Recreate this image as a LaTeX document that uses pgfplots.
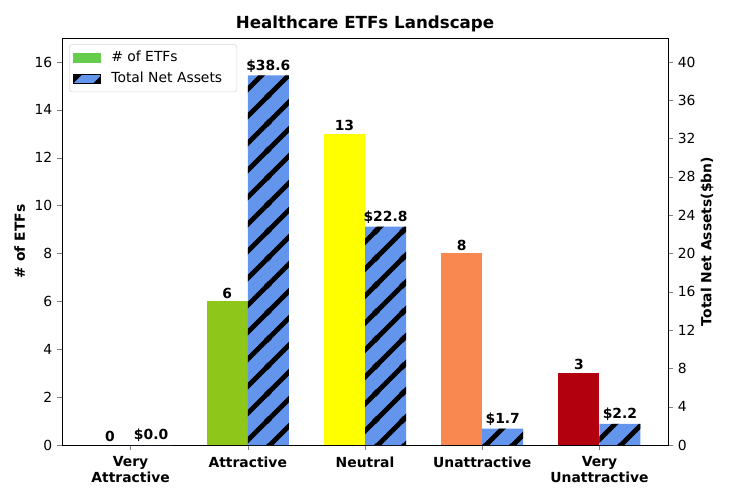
\documentclass[border=0pt]{standalone}
\usepackage{fontspec}
\setmainfont{DejaVu Sans}
\usepackage{pgfplots}
\pgfplotsset{compat=1.18}
\usetikzlibrary{patterns}

\definecolor{legendgreen}{HTML}{66CC4C}
\definecolor{vattr}{HTML}{1A9641}
\definecolor{attr}{HTML}{8EC71A}
\definecolor{neutral}{HTML}{FFFF00}
\definecolor{unattr}{HTML}{F88750}
\definecolor{vunattr}{HTML}{B3000F}
\definecolor{tna}{HTML}{6495ED}

% thick 45 degree hatch, like matplotlib's '//'
\pgfdeclarepatternformonly{thickhatch}{\pgfqpoint{0pt}{0pt}}{\pgfqpoint{19.2pt}{19.2pt}}{\pgfqpoint{19.2pt}{19.2pt}}{
  \pgfsetlinewidth{3.4pt}
  \pgfpathmoveto{\pgfqpoint{-4pt}{-4pt}}\pgfpathlineto{\pgfqpoint{23.2pt}{23.2pt}}
  \pgfpathmoveto{\pgfqpoint{-4pt}{15.2pt}}\pgfpathlineto{\pgfqpoint{4pt}{23.2pt}}
  \pgfpathmoveto{\pgfqpoint{15.2pt}{-4pt}}\pgfpathlineto{\pgfqpoint{23.2pt}{4pt}}
  \pgfusepath{stroke}}

\pgfplotsset{
  common/.style={
    scale only axis, width=436.32pt, height=293.04pt,
    at={(0,0)}, anchor=south west,
    xmin=-0.585, xmax=4.585,
    /pgf/number format/assume math mode=true,
    tick align=outside, major tick length=3.5pt,
    tick label style={font=\fontsize{10}{12}\selectfont},
    label style={font=\fontsize{10}{12}\selectfont\bfseries},
    ybar, bar width=0.35,
    nodes near coords style={font=\fontsize{10}{12}\selectfont\bfseries, anchor=south, inner sep=2pt},
  },
}

\begin{document}
\begin{tikzpicture}
\useasboundingbox (-44.64pt,-39.6pt) rectangle (480.96pt,320.4pt);

\begin{axis}[common,
  ymin=0, ymax=17, ytick={0,2,...,16},
  xtick={0,1,2,3,4}, xtick pos=bottom, ytick pos=left,
  xticklabels={{Very\\Attractive},Attractive,Neutral,Unattractive,{Very\\Unattractive}},
  xticklabel style={align=center, font=\fontsize{10}{11}\selectfont\bfseries, yshift=-1.5pt},
  ylabel={\# of ETFs},
  title={Healthcare ETFs Landscape},
  title style={font=\fontsize{12}{14}\selectfont\bfseries, yshift=-5pt},
  bar shift=-0.175,
  nodes near coords,
  legend style={at={(0.0116,0.985)}, anchor=north west, draw=black!15, rounded corners=2pt,
    font=\fontsize{10}{12}\selectfont, inner sep=3pt, row sep=2pt,
    nodes={inner xsep=7.5pt}},
  legend cell align=left,
]
\addlegendimage{legend image code/.code={\fill[legendgreen, sharp corners] (0pt,-3.2pt) rectangle (19.4pt,3.2pt);}}
\addlegendentry{\# of ETFs}
\addlegendimage{legend image code/.code={\fill[tna, sharp corners] (0pt,-3.2pt) rectangle (19.4pt,3.2pt);
  \fill[pattern=thickhatch, sharp corners] (0pt,-3.2pt) rectangle (19.4pt,3.2pt);}}
\addlegendentry{Total Net Assets}

\addplot[fill=vattr, draw=none, forget plot] coordinates {(0,0)};
\addplot[fill=attr, draw=none, forget plot] coordinates {(1,6)};
\addplot[fill=neutral, draw=none, forget plot] coordinates {(2,13)};
\addplot[fill=unattr, draw=none, forget plot] coordinates {(3,8)};
\addplot[fill=vunattr, draw=none, forget plot] coordinates {(4,3)};
\end{axis}

\begin{axis}[common,
  ymin=0, ymax=42.5, ytick={0,4,...,40},
  xtick=\empty, ytick pos=right, yticklabel pos=right,
  ylabel={Total Net Assets(\$bn)},
  ylabel style={yshift=3pt},
  bar shift=0.175,
  nodes near coords={\$\pgfmathprintnumber[fixed,precision=1,fixed zerofill]{\pgfplotspointmeta}},
]
\addplot[fill=tna, draw=none, postaction={pattern=thickhatch}] coordinates {
  (0,0.0) (1,38.6) (2,22.8) (3,1.7) (4,2.2)
};
\end{axis}
\end{tikzpicture}
\end{document}
